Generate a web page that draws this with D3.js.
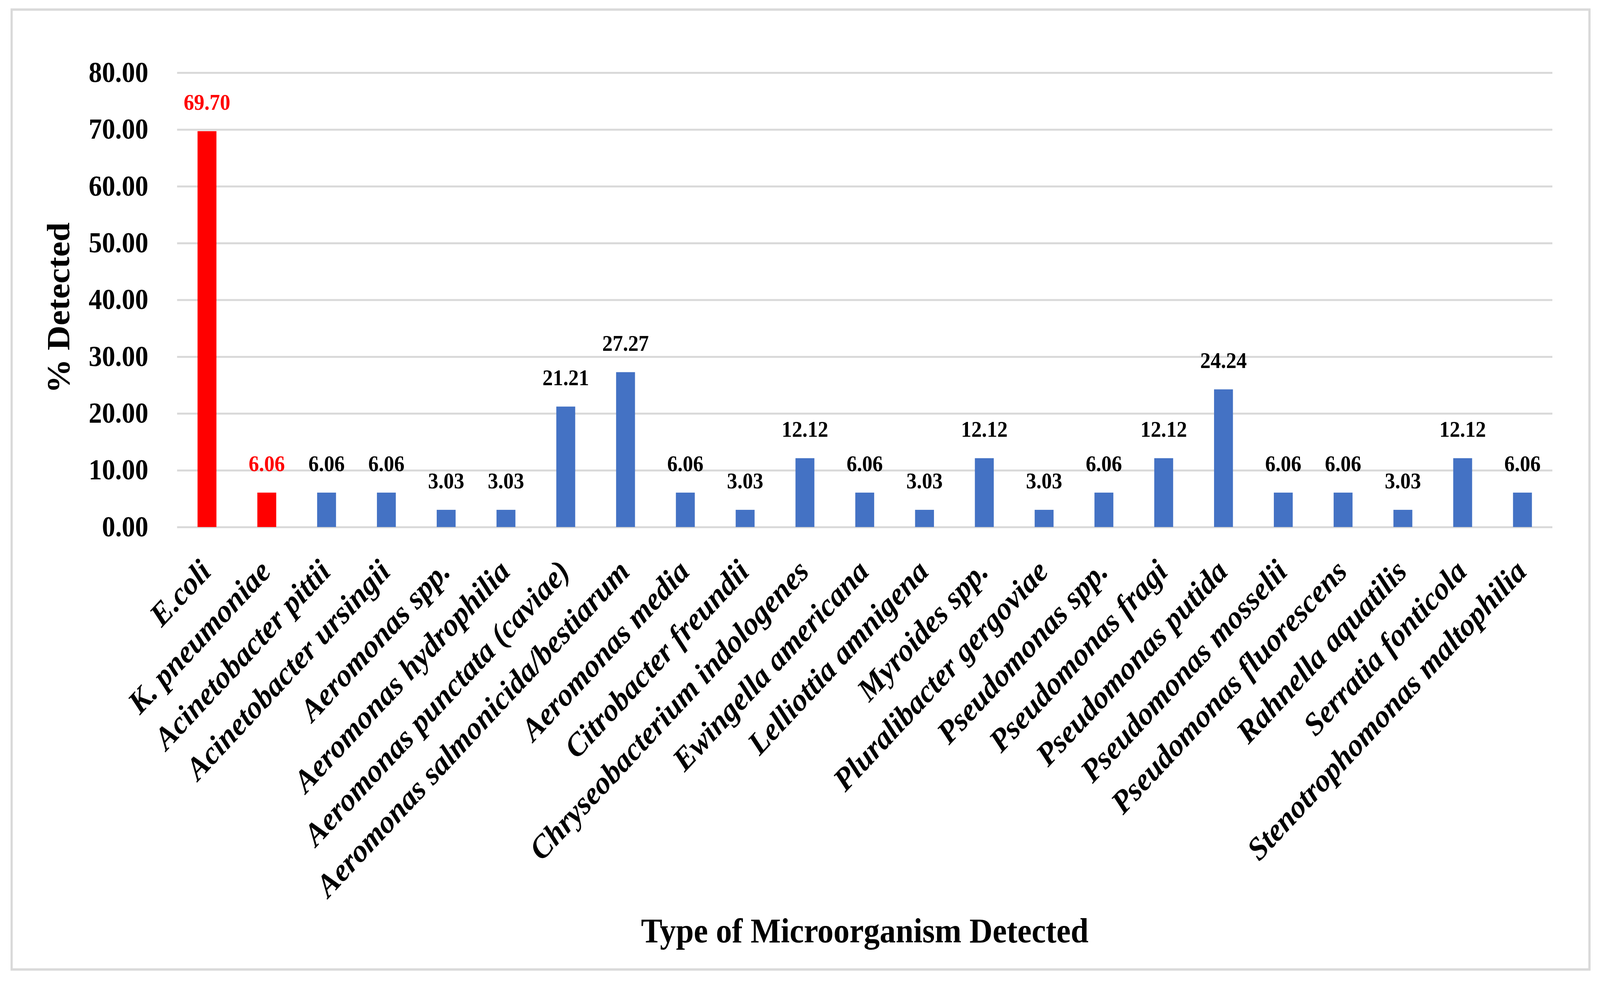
<!DOCTYPE html>
<html>
<head>
<meta charset="utf-8">
<script src="https://cdn.jsdelivr.net/npm/d3@7"></script>
<style>
  html, body { margin: 0; padding: 0; background: #fff; overflow: hidden; }
  #chart { display: block; width: 100vw; height: 100vh; }
  svg text { font-family: "Liberation Serif", "Times New Roman", serif; }
</style>
</head>
<body>
<svg id="chart" viewBox="0 0 4400 2511" preserveAspectRatio="none"></svg>
<script>
'use strict';

// data
var categories = [
  'E.coli', 'K. pneumoniae', 'Acinetobacter pittii', 'Acinetobacter ursingii',
  'Aeromonas spp.', 'Aeromonas hydrophilia', 'Aeromonas punctata (caviae)',
  'Aeromonas salmonicida/bestiarum', 'Aeromonas media', 'Citrobacter freundii',
  'Chryseobacterium indologenes', 'Ewingella americana', 'Lelliottia amnigena',
  'Myroides spp.', 'Pluralibacter gergoviae', 'Pseudomonas spp.', 'Pseudomonas fragi',
  'Pseudomonas putida', 'Pseudomonas mosselii', 'Pseudomonas fluorescens',
  'Rahnella aquatilis', 'Serratia fonticola', 'Stenotrophomonas maltophilia'
];
var values = [
  69.70, 6.06, 6.06, 6.06, 3.03, 3.03, 21.21, 27.27, 6.06, 3.03, 12.12, 6.06,
  3.03, 12.12, 3.03, 6.06, 12.12, 24.24, 6.06, 6.06, 3.03, 12.12, 6.06
];
var highlighted = ['E.coli', 'K. pneumoniae'];
var yTicks = [0, 10, 20, 30, 40, 50, 60, 70, 80];

var xTitle = 'Type of Microorganism Detected';
var yTitle = '% Detected';

(function(){
  var rows = categories.map(function(c, i){
    return { name: c, value: values[i] };
  });

  var svg = d3.select('#chart');
  var plotL = 487, plotR = 4269, plotT = 186, plotB = 1349;

  svg.append('rect')
    .attr('width', 4400).attr('height', 2511)
    .attr('fill', '#fff');

  // outer frame
  svg.append('rect')
    .attr('x', 32).attr('y', 24.5)
    .attr('width', 4339).attr('height', 2457)
    .attr('fill', '#fff')
    .attr('stroke', '#d9d9d9')
    .attr('stroke-width', 6);

  var x = d3.scaleBand()
    .domain(categories)
    .range([plotL, plotR])
    .paddingInner(0.684)
    .paddingOuter(0.342);

  var y = d3.scaleLinear()
    .domain([0, 80])
    .range([plotB, plotT]);

  // y axis + gridlines
  var yAxis = svg.append('g')
    .attr('transform', 'translate(' + plotL + ',0)')
    .call(d3.axisLeft(y)
      .tickValues(yTicks)
      .tickFormat(d3.format('.2f'))
      .tickSize(-(plotR - plotL))
      .tickPadding(79));

  yAxis.select('.domain').remove();
  yAxis.selectAll('.tick line')
    .attr('stroke', '#d9d9d9')
    .attr('stroke-width', 5);
  yAxis.selectAll('.tick text')
    .attr('fill', '#000')
    .style('font-family', '"Liberation Serif", serif')
    .style('font-weight', 'bold')
    .style('font-size', '73px');

  // bars
  svg.append('g')
    .selectAll('rect')
    .data(rows)
    .enter()
    .append('rect')
    .attr('x', function(d){ return x(d.name); })
    .attr('y', function(d){ return y(d.value); })
    .attr('width', x.bandwidth())
    .attr('height', function(d){ return y(0) - y(d.value); })
    .attr('fill', function(d){
      return highlighted.indexOf(d.name) >= 0 ? '#ff0000' : '#4472c4';
    });

  // value labels
  svg.append('g')
    .selectAll('text')
    .data(rows)
    .enter()
    .append('text')
    .attr('x', function(d){ return x(d.name) + x.bandwidth() / 2; })
    .attr('y', function(d){ return y(d.value) - 55; })
    .attr('text-anchor', 'middle')
    .style('font-weight', 'bold')
    .style('font-size', '57px')
    .attr('fill', function(d){
      return highlighted.indexOf(d.name) >= 0 ? '#ff0000' : '#000';
    })
    .text(function(d){ return d.value.toFixed(2); });

  // category labels
  svg.append('g')
    .selectAll('text')
    .data(categories)
    .enter()
    .append('text')
    .attr('transform', function(d){
      var cx = x(d) + x.bandwidth() / 2 - 5;
      return 'translate(' + cx + ',' + (plotB + 98) + ') rotate(-45)';
    })
    .attr('text-anchor', 'end')
    .attr('dy', '0.35em')
    .style('font-weight', 'bold')
    .style('font-style', 'italic')
    .style('font-size', '82px')
    .text(function(d){ return d; });

  // axis titles
  svg.append('text')
    .attr('x', (plotL + plotR) / 2)
    .attr('y', 2412)
    .attr('text-anchor', 'middle')
    .style('font-weight', 'bold')
    .style('font-size', '88px')
    .text(xTitle);

  svg.append('text')
    .attr('transform', 'translate(190,788) rotate(-90)')
    .attr('text-anchor', 'middle')
    .style('font-weight', 'bold')
    .style('font-size', '88px')
    .text(yTitle);
})();
</script>
</body>
</html>
